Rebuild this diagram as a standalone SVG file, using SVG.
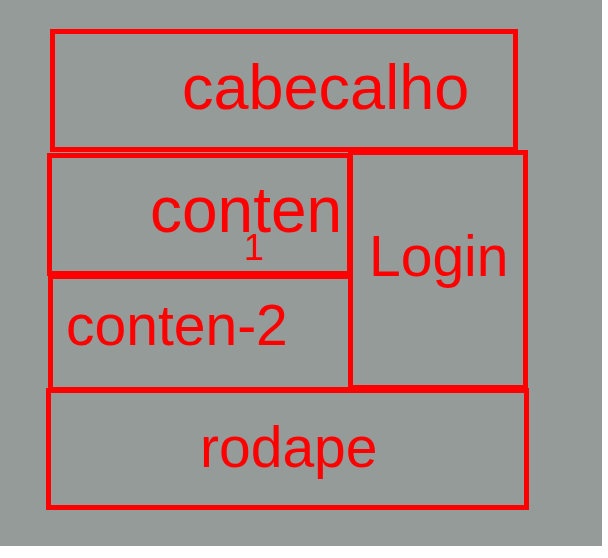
<svg xmlns="http://www.w3.org/2000/svg" width="608" height="558" viewBox="0 0 608 558">
<style>
.box{fill:none;stroke:#ff0000;stroke-width:5}
.lbl{fill:#ff0000;font-family:"Liberation Sans",Arial,sans-serif}
</style>
<rect x="0" y="0" width="608" height="558" fill="#ffffff"/>
<rect x="0" y="0" width="602" height="546" fill="#949b99"/>
<g id="connectors"></g>
<g id="cabecalho">
<rect class="box" x="52.5" y="31.5" width="463" height="118"/>
<text class="lbl" x="182" y="109" font-size="63">cabecalho</text>
</g>
<g id="conten1">
<rect class="box" x="49.5" y="155.5" width="300" height="118"/>
<text class="lbl" x="150" y="232" font-size="64">conten</text>
<text class="lbl" x="244" y="260" font-size="36">1</text>
</g>
<g id="conten2">
<rect class="box" x="50.5" y="276.5" width="300" height="113"/>
<text class="lbl" x="66" y="345" font-size="57">conten-2</text>
</g>
<g id="login">
<rect class="box" x="350.5" y="152.5" width="175" height="235"/>
<text class="lbl" x="369" y="276" font-size="57">Login</text>
</g>
<g id="rodape">
<rect class="box" x="48.5" y="390.5" width="478" height="117"/>
<text class="lbl" x="200" y="467" font-size="57">rodape</text>
</g>
</svg>
